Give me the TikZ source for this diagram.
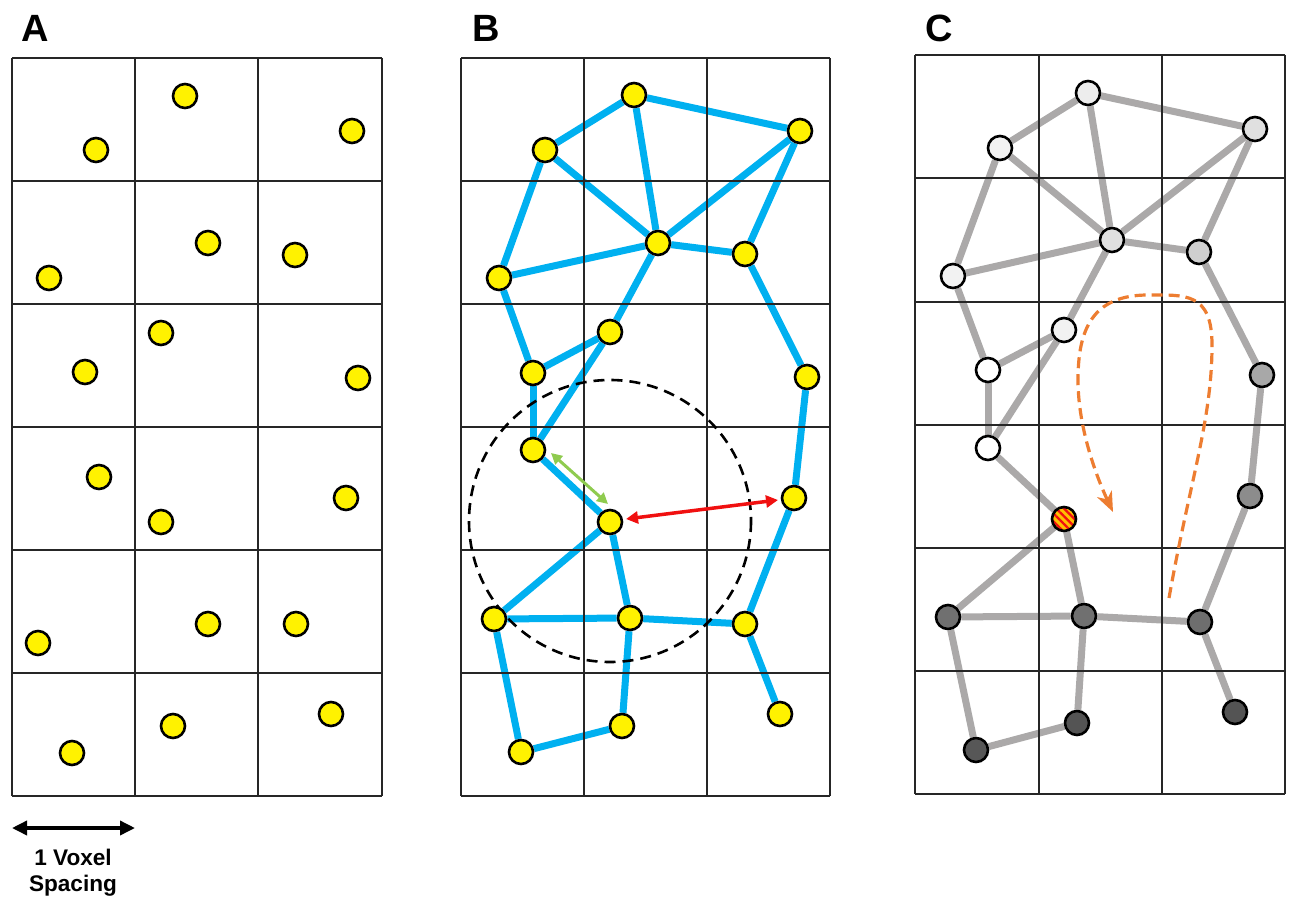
\documentclass[tikz,border=0pt]{standalone}
\usepackage{fontspec}
\setmainfont{Liberation Sans}
\usetikzlibrary{arrows.meta,backgrounds,patterns.meta}
\definecolor{cyanB}{HTML}{00B0F0}
\definecolor{grayE}{HTML}{ABA9A9}
\definecolor{orangeP}{HTML}{ED7D31}
\definecolor{greenA}{HTML}{8FCB4F}
\definecolor{hatchO}{HTML}{FFC000}
\definecolor{redA}{HTML}{F01010}
\begin{document}
\begin{tikzpicture}[x=1pt,y=-1pt,
  vox/.style={circle,draw=black,line width=2.6pt,minimum size=24pt,inner sep=0pt},
  yel/.style={vox,fill=yellow},
  gvox/.style={vox,fill=#1},
  gridline/.style={line width=1.5pt,draw=black!85},
  bedge/.style={line width=7pt,draw=cyanB},
  cedge/.style={line width=7pt,draw=grayE},
  lab/.style={font=\bfseries\fontsize{38}{40}\selectfont,inner sep=0pt}]
\useasboundingbox (0,0) rectangle (1290,899);

% panel labels
\node[lab] (labA) at (35,28) {A};
\node[lab] (labB) at (486,28) {B};
\node[lab] (labC) at (939,28) {C};

% grids
\foreach \x in {12,135,258,382} \draw[gridline] (\x,58) -- (\x,796);
\foreach \y in {58,181,304,427,550,673,796} \draw[gridline] (12,\y) -- (382,\y);
\foreach \x in {461,584,707,830} \draw[gridline] (\x,58) -- (\x,796);
\foreach \y in {58,181,304,427,550,673,796} \draw[gridline] (461,\y) -- (830,\y);
\foreach \x in {915,1039,1162,1285} \draw[gridline] (\x,55) -- (\x,794);
\foreach \y in {55,178,302,425,548,671,794} \draw[gridline] (915,\y) -- (1285,\y);

% scale bar
\coordinate (s1) at (12,828);
\coordinate (s2) at (135,828);
\draw[line width=3.5pt,{Triangle[length=15pt,width=14pt]}-{Triangle[length=15pt,width=14pt]}] (s1) -- (s2);
\node[font=\bfseries\fontsize{22.6}{26}\selectfont,align=center,inner sep=0pt] (scaletxt) at (73,873) {1 Voxel\\Spacing};

% panel A nodes
\node[yel] (a1) at (96,150) {};
\node[yel] (a2) at (185,96) {};
\node[yel] (a3) at (352,131) {};
\node[yel] (a4) at (49,278) {};
\node[yel] (a5) at (208,243) {};
\node[yel] (a6) at (295,255) {};
\node[yel] (a7) at (161,333) {};
\node[yel] (a8) at (85,372) {};
\node[yel] (a9) at (358,378) {};
\node[yel] (a10) at (99,477) {};
\node[yel] (a11) at (161,522) {};
\node[yel] (a12) at (346,498) {};
\node[yel] (a13) at (38,643) {};
\node[yel] (a14) at (208,624) {};
\node[yel] (a15) at (296,624) {};
\node[yel] (a16) at (72,753) {};
\node[yel] (a17) at (173,726) {};
\node[yel] (a18) at (331,714) {};

% panel B dashed circle
\draw[line width=2.6pt,dash pattern=on 11pt off 7pt] (610,521) circle[radius=141];

% panel B nodes
\node[yel] (b1) at (634,95) {};
\node[yel] (b2) at (545,150) {};
\node[yel] (b3) at (800,131) {};
\node[yel] (b4) at (499,278) {};
\node[yel] (b5) at (658,243) {};
\node[yel] (b6) at (745,254) {};
\node[yel] (b7) at (610,332) {};
\node[yel] (b8) at (533,373) {};
\node[yel] (b9) at (807,377) {};
\node[yel] (b10) at (533,450) {};
\node[yel] (b11) at (610,522) {};
\node[yel] (b12) at (794,498) {};
\node[yel] (b13) at (494,619) {};
\node[yel] (b14) at (630,618) {};
\node[yel] (b15) at (745,624) {};
\node[yel] (b16) at (521,752) {};
\node[yel] (b17) at (622,726) {};
\node[yel] (b18) at (780,714) {};

% distance arrows
\coordinate (g1) at (551,453);
\coordinate (g2) at (608,504);
\draw[greenA,line width=3pt,{Triangle[length=11pt,width=11pt]}-{Triangle[length=11pt,width=11pt]}] (g1) -- (g2);
\coordinate (r1) at (626,519);
\coordinate (r2) at (778,500);
\draw[redA,line width=3.5pt,{Triangle[length=12pt,width=12pt]}-{Triangle[length=12pt,width=12pt]}] (r1) -- (r2);

% panel C nodes
\node[gvox=black!7] (c1) at (1088,93) {};
\node[gvox=black!5] (c2) at (1000,148) {};
\node[gvox=black!12] (c3) at (1255,129) {};
\node[gvox=black!5] (c4) at (953,276) {};
\node[gvox=black!12] (c5) at (1112,240) {};
\node[gvox=black!19] (c6) at (1199,252) {};
\node[gvox=black!5] (c7) at (1064,330) {};
\node[gvox=white] (c8) at (988,370) {};
\node[gvox=black!34] (c9) at (1262,375) {};
\node[gvox=white] (c10) at (988,448) {};
\node[vox,preaction={fill=hatchO},pattern={Lines[angle=-45,distance=5.5pt,line width=2.2pt]},pattern color=redA] (c11) at (1064,519) {};
\node[gvox=black!45] (c12) at (1250,496) {};
\node[gvox=black!56] (c13) at (948,617) {};
\node[gvox=black!56] (c14) at (1084,616) {};
\node[gvox=black!57] (c15) at (1200,622) {};
\node[gvox=black!66] (c16) at (976,750) {};
\node[gvox=black!67] (c17) at (1077,723) {};
\node[gvox=black!67] (c18) at (1235,712) {};

% orange path arrow
\coordinate (o1) at (1169,598);
\coordinate (o2) at (1113,512);
\draw[orangeP,line width=3.2pt,dash pattern=on 11pt off 6pt,-{Stealth[length=20pt,width=16pt,inset=6pt]}]
  (o1) .. controls (1190,480) and (1212,420) .. (1212,345)
       .. controls (1212,292) and (1185,295) .. (1148,295)
       .. controls (1092,295) and (1078,330) .. (1078,380)
       .. controls (1078,430) and (1098,480) .. (o2);

\begin{pgfonlayer}{background}
  \foreach \u/\v in {2/1,1/3,1/5,2/5,3/5,3/6,5/6,4/5,2/4,4/8,5/7,7/8,7/10,8/10,6/9,9/12,12/15,15/18,10/11,11/13,11/14,13/14,14/15,13/16,16/17,17/14} {
    \draw[bedge] (b\u) -- (b\v);
    \draw[cedge] (c\u) -- (c\v);
  }
\end{pgfonlayer}
\end{tikzpicture}
\end{document}
